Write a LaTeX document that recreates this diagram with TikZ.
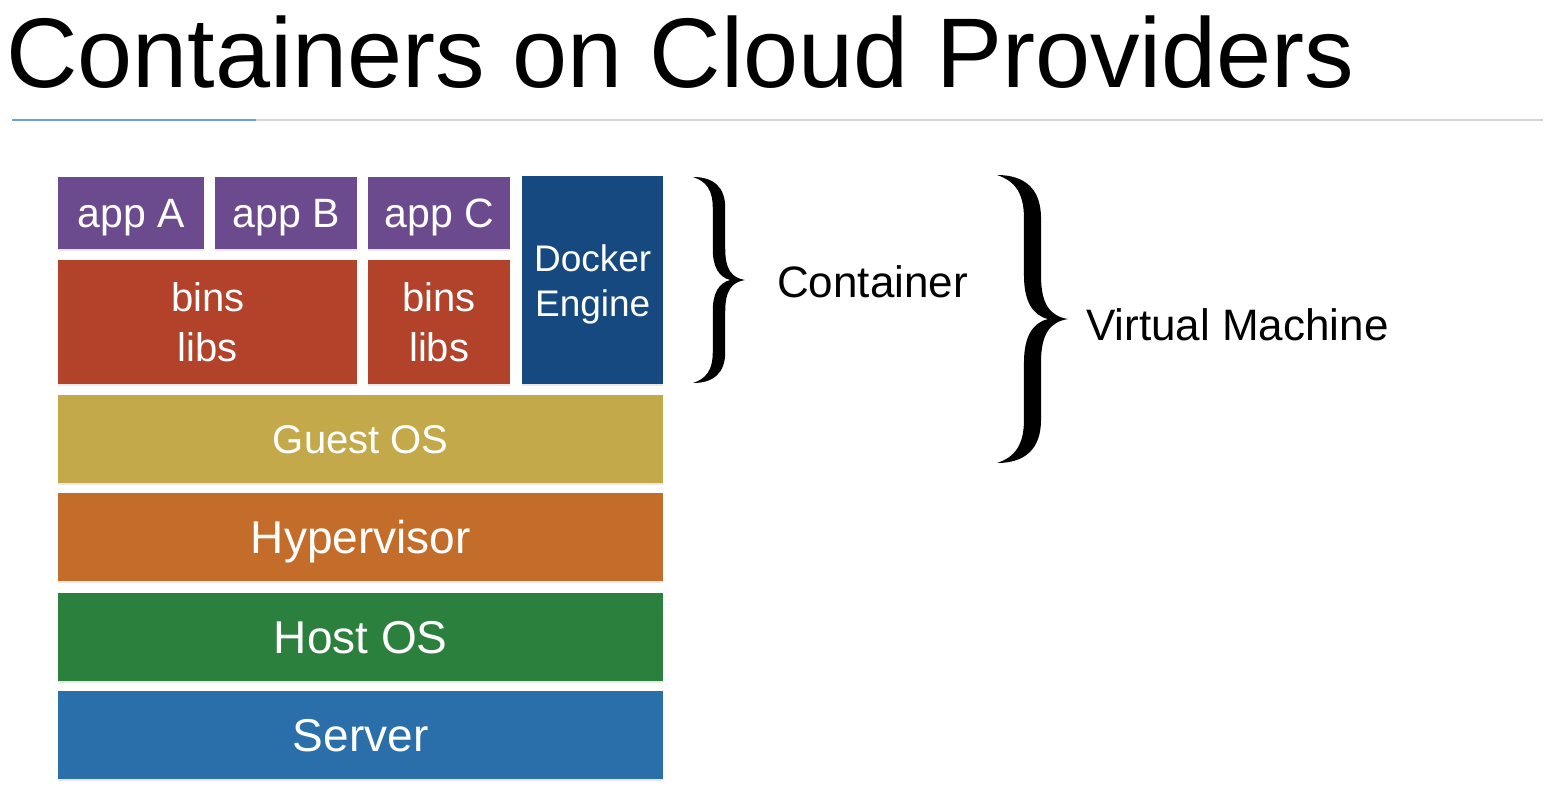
\documentclass[tikz,border=0pt]{standalone}
\usepackage{fontspec}
\setmainfont{Liberation Sans}
\usetikzlibrary{shadows}
\definecolor{appPurple}{HTML}{6B4A8D}
\definecolor{binsRed}{HTML}{B3422B}
\definecolor{dockerBlue}{HTML}{16497F}
\definecolor{guestYellow}{HTML}{C4A94A}
\definecolor{hyperOrange}{HTML}{C46D2A}
\definecolor{hostGreen}{HTML}{2B803E}
\definecolor{serverBlue}{HTML}{2A6FAA}
\definecolor{ruleBlue}{HTML}{6AA1DC}
\definecolor{ruleGray}{HTML}{D4D4D4}
\tikzset{
  layer/.style={anchor=north west, inner sep=0pt, text=white,
    drop shadow={opacity=0.18, shadow xshift=0pt, shadow yshift=-1.5pt}},
  oneline/.style={text height=#1, text depth=0pt},
  twoline/.style={align=center},
  sidelabel/.style={anchor=base west, inner sep=0pt, text=black},
  curlybrace/.pic={
    \fill[black] (0,0)
      .. controls (0.4,0.0) and (0.62,0.2) .. (0.62,0.6)
      -- (0.62,1.4)
      .. controls (0.62,1.8) and (0.75,1.96) .. (1,2)
      .. controls (0.75,2.04) and (0.62,2.2) .. (0.62,2.6)
      -- (0.62,3.4)
      .. controls (0.62,3.8) and (0.4,4.0) .. (0,4)
      .. controls (0.25,3.92) and (0.38,3.75) .. (0.38,3.4)
      -- (0.38,2.6)
      .. controls (0.38,2.25) and (0.5,2.05) .. (0.72,2)
      .. controls (0.5,1.95) and (0.38,1.75) .. (0.38,1.4)
      -- (0.38,0.6)
      .. controls (0.38,0.25) and (0.25,0.08) .. (0,0) -- cycle;
  },
}
\begin{document}
\begin{tikzpicture}[x=1pt,y=-1pt]
\useasboundingbox (0,0) rectangle (1555,807);
% title
\node[anchor=base west, inner sep=0pt] (title) at (6,87) {\fontsize{99}{110}\selectfont Containers on Cloud Providers};
\coordinate (r0) at (12,120);
\coordinate (r1) at (256,120);
\coordinate (r2) at (1543,120);
\draw[ruleGray, line width=2pt] (r1) -- (r2);
\draw[ruleBlue, line width=2pt] (r0) -- (r1);
% top row
\node[layer, oneline=29.5pt, fill=appPurple, minimum width=146pt, minimum height=72pt, font=\fontsize{41}{48}\selectfont] (appA) at (58,177) {app A};
\node[layer, oneline=29.5pt, fill=appPurple, minimum width=142pt, minimum height=72pt, font=\fontsize{41}{48}\selectfont] (appB) at (215,177) {app B};
\node[layer, oneline=29.5pt, fill=appPurple, minimum width=142pt, minimum height=72pt, font=\fontsize{41}{48}\selectfont] (appC) at (368,177) {app C};
\node[layer, twoline, fill=binsRed, minimum width=299pt, minimum height=124pt, font=\fontsize{40}{50}\selectfont] (binsAB) at (58,260) {bins\\libs};
\node[layer, twoline, fill=binsRed, minimum width=142pt, minimum height=124pt, font=\fontsize{40}{50}\selectfont] (binsC) at (368,260) {bins\\libs};
\node[layer, fill=dockerBlue, minimum width=141pt, minimum height=208pt] (docker) at (522,176) {};
\node[twoline, inner sep=0pt, text=white, font=\fontsize{37}{45}\selectfont] (dockerText) at ([yshift=-4pt]docker.center) {Docker\\Engine};
% lower layers
\node[layer, oneline=28.8pt, fill=guestYellow, minimum width=605pt, minimum height=88pt, font=\fontsize{40}{48}\selectfont] (guest) at (58,395) {Guest OS};
\node[layer, oneline=33pt, fill=hyperOrange, minimum width=605pt, minimum height=88pt, font=\fontsize{46}{54}\selectfont] (hyper) at (58,493) {Hypervisor};
\node[layer, oneline=33pt, fill=hostGreen, minimum width=605pt, minimum height=88pt, font=\fontsize{46}{54}\selectfont] (host) at (58,593) {Host OS};
\node[layer, oneline=33pt, fill=serverBlue, minimum width=605pt, minimum height=88pt, font=\fontsize{46}{54}\selectfont] (server) at (58,691) {Server};
% braces
\pic[xscale=52, yscale=51.5] (braceC) at (693,177) {curlybrace};
\pic[xscale=71, yscale=72] (braceVM) at (997,175) {curlybrace};
% labels
\node[sidelabel, font=\fontsize{44}{52}\selectfont] (lblC) at (777,297) {Container};
\node[sidelabel, font=\fontsize{44}{52}\selectfont] (lblVM) at (1086,340) {Virtual Machine};
\end{tikzpicture}
\end{document}
